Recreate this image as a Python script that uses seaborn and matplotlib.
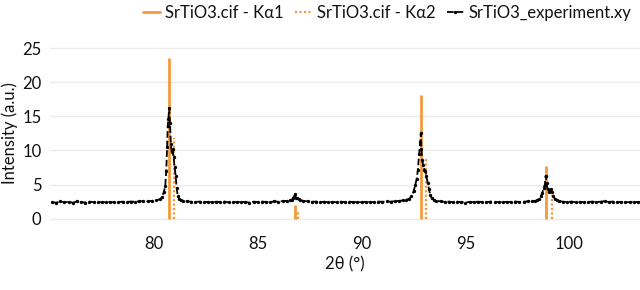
import numpy as np
import pandas as pd
import matplotlib
matplotlib.use('Agg')
import matplotlib.pyplot as plt
import seaborn as sns
from matplotlib.lines import Line2D

# calculated reflections (SrTiO3.cif)
ka1_pos = [80.73, 86.81, 92.88, 98.88]
ka1_int = [23.6, 2.0, 18.1, 7.7]
ka2_pos = [80.95, 86.92, 93.12, 99.18]
ka2_int = [11.8, 1.0, 9.0, 3.85]

exp_2theta = [
    75.1, 75.3, 75.5, 75.7, 75.9, 76.1, 76.3, 76.5, 76.7, 76.9, 77.1, 77.3, 77.5, 77.7,
    77.9, 78.1, 78.3, 78.5, 78.7, 78.9, 79.1, 79.3, 79.5, 79.7, 79.9, 80.1,
    80.30, 80.40, 80.48, 80.55, 80.60, 80.64, 80.67, 80.70, 80.74, 80.78, 80.82, 80.86,
    80.90, 80.95, 81.00, 81.05, 81.10, 81.15, 81.22, 81.30,
    81.4, 81.6, 81.8, 82.0, 82.2, 82.4, 82.6, 82.8, 83.0, 83.2, 83.4, 83.6, 83.8, 84.0,
    84.2, 84.4, 84.6, 84.8, 85.0, 85.2, 85.4, 85.6, 85.8, 86.0, 86.2, 86.4,
    86.55, 86.65, 86.72, 86.78, 86.84, 86.90, 86.97, 87.05,
    87.2, 87.4, 87.6, 87.8, 88.0, 88.2, 88.4, 88.6, 88.8, 89.0, 89.2, 89.4, 89.6, 89.8,
    90.0, 90.2, 90.4, 90.6, 90.8, 91.0, 91.2, 91.4, 91.6, 91.8, 92.0, 92.15,
    92.30, 92.40, 92.50, 92.58, 92.65, 92.71, 92.77, 92.81, 92.85, 92.88, 92.92, 92.97,
    93.02, 93.07, 93.12, 93.18, 93.24, 93.30, 93.38, 93.48,
    93.6, 93.8, 94.0, 94.2, 94.4, 94.6, 94.8, 95.0, 95.2, 95.4, 95.6, 95.8, 96.0, 96.2,
    96.4, 96.6, 96.8, 97.0, 97.2, 97.4, 97.6, 97.8, 98.0, 98.2, 98.35,
    98.45, 98.55, 98.63, 98.70, 98.76, 98.82, 98.86, 98.90, 98.95, 99.00, 99.05, 99.10,
    99.16, 99.22, 99.30, 99.40,
    99.5, 99.7, 99.9, 100.1, 100.3, 100.5, 100.7, 100.9, 101.1, 101.3, 101.5, 101.7,
    101.9, 102.1, 102.3, 102.5, 102.7, 102.9, 103.1, 103.3, 103.5,
]
exp_int = [
    2.45, 2.35, 2.55, 2.40, 2.50, 2.35, 2.55, 2.45, 2.38, 2.52, 2.42, 2.48, 2.40, 2.44,
    2.46, 2.40, 2.45, 2.50, 2.47, 2.52, 2.50, 2.55, 2.58, 2.55, 2.62, 2.70,
    2.85, 3.20, 3.90, 4.80, 7.00, 10.50, 13.60, 14.60, 16.20, 14.00, 11.00, 9.80,
    10.20, 9.00, 7.60, 6.30, 4.50, 3.40, 2.90, 2.70,
    2.62, 2.55, 2.50, 2.45, 2.52, 2.42, 2.48, 2.40, 2.50, 2.44, 2.52, 2.40, 2.47, 2.42,
    2.50, 2.45, 2.38, 2.50, 2.44, 2.52, 2.46, 2.42, 2.55, 2.50, 2.58, 2.62,
    2.70, 2.80, 3.10, 3.65, 3.10, 3.05, 2.85, 2.70,
    2.62, 2.55, 2.48, 2.52, 2.44, 2.50, 2.40, 2.47, 2.42, 2.50, 2.45, 2.52, 2.43, 2.48,
    2.40, 2.50, 2.46, 2.42, 2.52, 2.48, 2.55, 2.50, 2.58, 2.62, 2.68, 2.78,
    2.95, 3.30, 4.00, 4.90, 5.80, 7.20, 9.50, 11.20, 12.50, 10.20, 8.60, 7.80,
    7.20, 7.00, 6.20, 5.30, 4.40, 3.50, 3.00, 2.75,
    2.62, 2.55, 2.48, 2.52, 2.42, 2.50, 2.44, 2.38, 2.48, 2.42, 2.50, 2.45, 2.40, 2.52,
    2.46, 2.42, 2.50, 2.44, 2.48, 2.52, 2.46, 2.50, 2.55, 2.58, 2.62,
    2.70, 2.90, 3.30, 3.80, 4.50, 5.00, 6.30, 5.20, 4.30, 3.90, 4.20, 4.30,
    3.90, 3.40, 2.90, 2.70,
    2.58, 2.50, 2.45, 2.52, 2.42, 2.48, 2.40, 2.46, 2.52, 2.44, 2.50, 2.58, 2.46, 2.52,
    2.42, 2.48, 2.40, 2.45, 2.50, 2.42, 2.46,
]

orange = '#F39A3D'
dots = (0, (1, 1))

sns.set_theme(style='whitegrid')
plt.rcParams['font.family'] = ['Lato', 'DejaVu Sans']

df = pd.DataFrame({'2theta': exp_2theta, 'intensity': exp_int})

fig, ax = plt.subplots(figsize=(6.4, 2.9), dpi=100)
fig.subplots_adjust(left=0.078, right=1.0, top=0.865, bottom=0.215)

ax.vlines(ka1_pos, 0, ka1_int, color=orange, lw=2, zorder=2)
ax.vlines(ka2_pos, 0, ka2_int, color=orange, lw=1.6, linestyles=dots, zorder=2)
sns.lineplot(data=df, x='2theta', y='intensity', ax=ax, color='black', lw=1.3,
             linestyle='--', marker='o', markersize=2.4, markeredgewidth=0, zorder=3)

ax.set_xlim(75.0, 103.4)
ax.set_ylim(-1.3, 26.3)
ax.set_xticks([80, 85, 90, 95, 100])
ax.set_yticks([0, 5, 10, 15, 20, 25])
ax.grid(axis='x', visible=False)
ax.grid(axis='y', color='#EBEBEB', lw=1)
for s in ax.spines.values():
    s.set_visible(False)
ax.tick_params(labelsize=12, colors='#111111', length=0, pad=6)
ax.set_xlabel('2θ (°)', fontsize=12, color='#111111', labelpad=3)
ax.set_ylabel('Intensity (a.u.)', fontsize=12, color='#111111', labelpad=3)

handles = [
    Line2D([], [], color=orange, lw=2),
    Line2D([], [], color=orange, lw=1.6, linestyle=dots),
    Line2D([], [], color='black', lw=1.3, linestyle='--', marker='o', markersize=2.4, markeredgewidth=0),
]
labels = ['SrTiO3.cif - Kα1', 'SrTiO3.cif - Kα2', 'SrTiO3_experiment.xy']
fig.legend(handles, labels, loc='upper right', bbox_to_anchor=(1.01, 1.035), ncol=3,
           frameon=False, fontsize=12, handlelength=1.0, handletextpad=0.3,
           columnspacing=0.7, labelcolor='#111111')

fig.savefig('out.png', dpi=100)
